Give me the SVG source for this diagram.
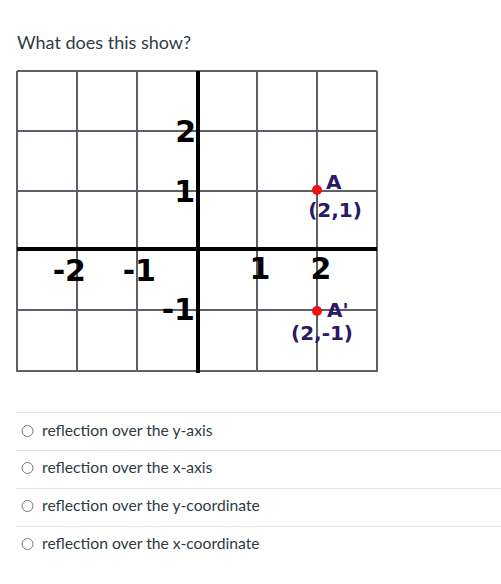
<svg xmlns="http://www.w3.org/2000/svg" width="501" height="584" viewBox="0 0 501 584">
<style>
.grid{stroke:#5f5f68;stroke-width:2;fill:none}
.axis{stroke:#000;stroke-width:4;fill:none}
.lbl{font-family:"DejaVu Sans",Verdana,sans-serif;font-weight:bold;font-size:30px;fill:#000}
.pt{fill:#ee1111}
.ptl{font-family:"DejaVu Sans",Verdana,sans-serif;font-weight:bold;font-size:20px;fill:#2b1869}
.sep{stroke:#e2e2e2;stroke-width:1}
.radio{fill:#fff;stroke:#777;stroke-width:1}
.opt{font-family:Lato,"Open Sans",sans-serif;font-size:15.7px;fill:#2d3b45}
.title{font-family:Lato,"Open Sans",sans-serif;font-size:18px;fill:#2d3b45}
</style>
<rect width="501" height="584" fill="#fff"/>
<text class="title" x="17" y="49">What does this show?</text>
<g id="grid">
<path class="grid" d="M17 71V372M77 71V372M137 71V372M257 71V372M317 71V372M377 71V372M17 71H377M17 131H377M17 191H377M17 310H377M17 371H377"/>
<path class="axis" d="M198 71V373M17 249H377"/>
</g>
<g id="axis-labels">
<text class="lbl" x="196" y="142" text-anchor="end">2</text>
<text class="lbl" x="195" y="202" text-anchor="end">1</text>
<text class="lbl" x="195" y="320" text-anchor="end">-1</text>
<text class="lbl" x="86" y="281" text-anchor="end">-2</text>
<text class="lbl" x="156" y="281" text-anchor="end">-1</text>
<text class="lbl" x="260" y="279" text-anchor="middle">1</text>
<text class="lbl" x="321" y="279" text-anchor="middle">2</text>
</g>
<g id="point-A">
<circle class="pt" cx="317" cy="190" r="5"/>
<text class="ptl" x="326" y="189">A</text>
<text class="ptl" x="335" y="217" text-anchor="middle">(2,1)</text>
</g>
<g id="point-A-prime">
<circle class="pt" cx="317" cy="311" r="5"/>
<text class="ptl" x="327" y="317">A'</text>
<text class="ptl" x="322" y="340" text-anchor="middle">(2,-1)</text>
</g>
<g id="options">
<path class="sep" d="M16 412.5H501M16 450.5H501M16 488.5H501M16 526.5H501"/>
<g id="opt1"><circle class="radio" cx="27.5" cy="431" r="5.5"/><text class="opt" x="42" y="436">reflection over the y-axis</text></g>
<g id="opt2"><circle class="radio" cx="27.5" cy="468" r="5.5"/><text class="opt" x="42" y="473">reflection over the x-axis</text></g>
<g id="opt3"><circle class="radio" cx="27.5" cy="506" r="5.5"/><text class="opt" x="42" y="511">reflection over the y-coordinate</text></g>
<g id="opt4"><circle class="radio" cx="27.5" cy="544" r="5.5"/><text class="opt" x="42" y="549">reflection over the x-coordinate</text></g>
</g>
</svg>
